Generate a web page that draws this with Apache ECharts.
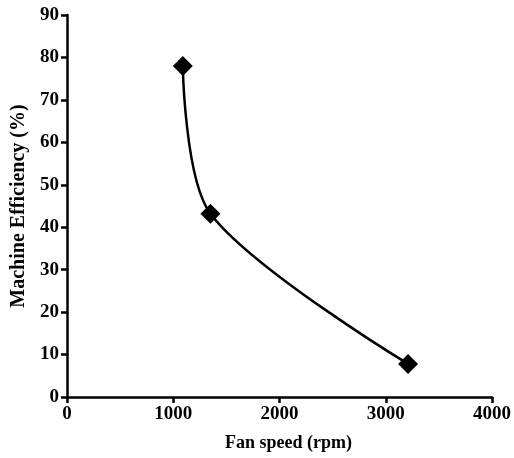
<!DOCTYPE html>
<html><head><meta charset="utf-8">
<script src="https://cdn.jsdelivr.net/npm/echarts@6/dist/echarts.min.js"></script>
<style>html,body{margin:0;padding:0;background:#fff}#c{width:514px;height:458px}</style>
</head><body><div id="c"></div>
<script>
var fanSpeed = [1090, 1350, 3210];
var efficiency = [78, 43.2, 7.8];
var xTicks = [0, 1000, 2000, 3000, 4000];
var yTicks = [0, 10, 20, 30, 40, 50, 60, 70, 80, 90];

var data = fanSpeed.map(function (x, i) { return [x, efficiency[i]]; });
var font = 'Liberation Serif';
var chart = echarts.init(document.getElementById('c'));
chart.setOption({
  animation: false,
  grid: { left: 67, right: 20, top: 15, bottom: 61 },
  xAxis: {
    type: 'value', min: 0, max: 4000, interval: 1000,
    name: 'Fan speed (rpm)', nameLocation: 'middle', nameGap: 37,
    nameTextStyle: { fontFamily: font, fontWeight: 'bold', fontSize: 18, color: '#000', padding: [0, 0, 0, 18] },
    axisLine: { lineStyle: { color: '#000', width: 2.5 } },
    axisTick: { show: true, length: 6, lineStyle: { color: '#000', width: 2.5 } },
    axisLabel: { fontFamily: font, fontWeight: 'bold', fontSize: 19, color: '#000', margin: 8,
      formatter: function (v) { return String(v); } },
    splitLine: { show: false }
  },
  yAxis: {
    type: 'value', min: 0, max: 90, interval: 10,
    name: 'Machine Efficiency (%)', nameLocation: 'middle', nameGap: 37,
    nameTextStyle: { fontFamily: font, fontWeight: 'bold', fontSize: 20, color: '#000' },
    axisLine: { show: true, lineStyle: { color: '#000', width: 2.5 } },
    axisTick: { show: true, length: 6, lineStyle: { color: '#000', width: 2.5 } },
    axisLabel: { fontFamily: font, fontWeight: 'bold', fontSize: 19, color: '#000', margin: 8 },
    splitLine: { show: false }
  },
  series: [{
    type: 'line', data: data, smooth: 0.3,
    symbol: 'diamond', symbolSize: 20,
    itemStyle: { color: '#000' },
    lineStyle: { color: '#000', width: 2.5 }
  }]
});
</script></body></html>
